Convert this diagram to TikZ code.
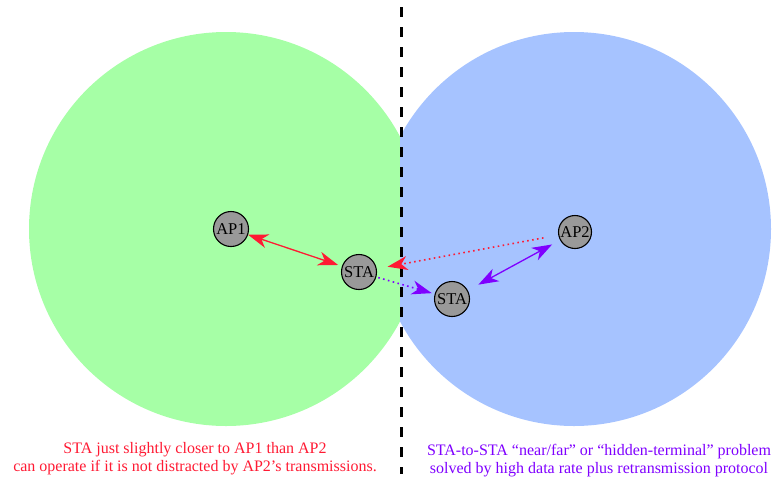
\documentclass[tikz,border=0pt]{standalone}
\usepackage{fontspec}
\setmainfont{Liberation Serif}
\usetikzlibrary{arrows.meta}
\definecolor{cgreen}{HTML}{A6FFA6}
\definecolor{cblue}{HTML}{A6C3FF}
\definecolor{cred}{HTML}{FF1A33}
\definecolor{cpurple}{HTML}{7F00FF}
\definecolor{cgray}{HTML}{999999}
\tikzset{
  dev/.style={circle, draw=black, line width=1.1pt, fill=cgray, minimum size=35pt, inner sep=0pt, font=\fontsize{16.5}{16.5}\selectfont},
  redline/.style={draw=cred, line width=1.3pt},
  purpline/.style={draw=cpurple, line width=1.3pt},
  dotline/.style={line width=1.6pt, dash pattern=on 1.6pt off 3.4pt},
  caption/.style={align=center, font=\fontsize{16}{18}\selectfont}
}
\begin{document}
\begin{tikzpicture}[x=1pt, y=-1pt]
\useasboundingbox (0,0) rectangle (776,483);
\begin{scope}
  \clip (0,0) rectangle (400,483);
  \fill[cgreen] (226,229) circle (197);
\end{scope}
\begin{scope}
  \clip (400,0) rectangle (776,483);
  \fill[cblue] (574,229) circle (197);
\end{scope}
\draw[line width=3pt, dash pattern=on 10pt off 10pt] (401,7) -- (401,474);

\node[dev] (ap1) at (231,229) {AP1};
\node[dev] (sta1) at (359,272) {STA};
\node[dev] (sta2) at (452,299) {STA};
\node[dev, minimum size=33pt] (ap2) at (575,232) {AP2};

\draw[redline, {Stealth[length=20pt, width=14pt, inset=6pt]}-{Stealth[length=20pt, width=14pt, inset=6pt]}, shorten >=4pt] (ap1) -- (sta1);
\draw[redline, dotline, -{Stealth[length=20pt, width=14pt, inset=6pt]}, shorten <=15pt, shorten >=11pt] (ap2) -- (sta1);
\draw[purpline, dotline, -{Stealth[length=20pt, width=14pt, inset=6pt]}, shorten <=2pt, shorten >=3pt] (sta1) -- (sta2);
\draw[purpline, {Stealth[length=20pt, width=14pt, inset=6pt]}-{Stealth[length=20pt, width=14pt, inset=6pt]}, shorten <=12pt, shorten >=9pt] (sta2) -- (ap2);

\node[caption, text=cred] (capl) at (195,459) {STA just slightly closer to AP1 than AP2\\can operate if it is not distracted by AP2’s transmissions.};
\node[caption, text=cpurple] (capr) at (599,461) {STA-to-STA “near/far” or “hidden-terminal” problem\\solved by high data rate plus retransmission protocol};
\end{tikzpicture}
\end{document}
